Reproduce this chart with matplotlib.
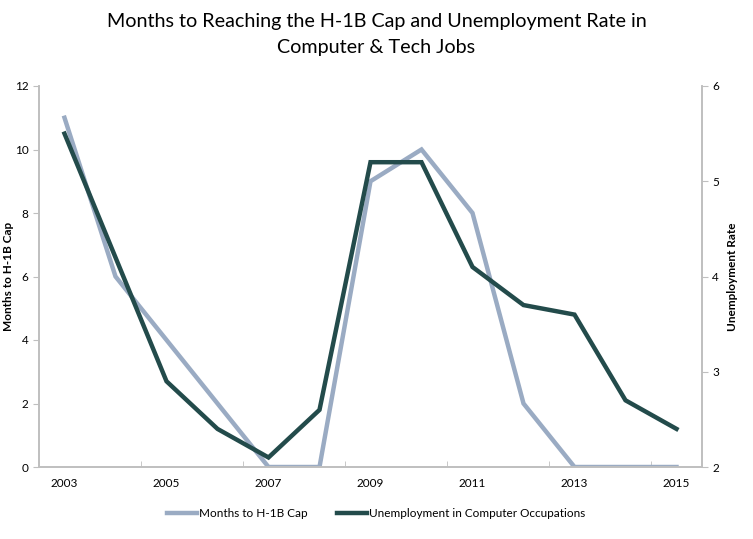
import matplotlib
matplotlib.use("Agg")
import matplotlib.pyplot as plt

years = [2003, 2004, 2005, 2006, 2007, 2008, 2009, 2010, 2011, 2012, 2013, 2014, 2015]
months_to_cap = [11, 6, 4, 2, 0, 0, 9, 10, 8, 2, 0, 0, 0]
unemployment = [5.5, 4.2, 2.9, 2.4, 2.1, 2.6, 5.2, 5.2, 4.1, 3.7, 3.6, 2.7, 2.4]
xtick_labels = [2003, 2005, 2007, 2009, 2011, 2013, 2015]

plt.rcParams['font.family'] = ['Lato', 'DejaVu Sans']

fig = plt.figure(figsize=(7.53, 5.39), dpi=100)
ax = fig.add_axes([39/753, 1-467/539, (702-39)/753, (467-86)/539])
ax2 = ax.twinx()

gray_c = '#9aabc3'
dark_c = '#234b4b'
spine_c = '#bfbfbf'

l1, = ax.plot(years, months_to_cap, color=gray_c, lw=3.2, solid_joinstyle='miter', label='Months to H-1B Cap', zorder=2)
l2, = ax2.plot(years, unemployment, color=dark_c, lw=3.2, solid_joinstyle='miter', label='Unemployment in Computer Occupations', zorder=3)

ax.set_xlim(2002.5, 2015.5)
ax.set_ylim(0, 12)
ax.set_yticks(range(0, 13, 2))
ax2.set_ylim(2, 6)
ax2.set_yticks([2, 3, 4, 5, 6])

ax.set_xticks(xtick_labels)
ax.set_xticklabels([str(y) for y in xtick_labels], fontsize=8.5)
ax.tick_params(axis='x', length=0, pad=8)
ax.set_xticks([2002.5 + 2*i for i in range(7)], minor=True)
ax.tick_params(axis='x', which='minor', length=4, color=spine_c, direction='in')

for a in (ax, ax2):
    a.spines['top'].set_visible(False)
    for s in ('left', 'right', 'bottom'):
        a.spines[s].set_color(spine_c)
        a.spines[s].set_linewidth(1.2)
    a.tick_params(axis='y', labelsize=8.5, length=4, color=spine_c, direction='out')

ax.set_ylabel('Months to H-1B Cap', fontsize=8.5, fontweight='bold')
ax.yaxis.set_label_coords(-0.038, 0.5)
ax2.set_ylabel('Unemployment Rate', fontsize=8.5, fontweight='bold')
ax2.yaxis.set_label_coords(1.038, 0.5)

fig.suptitle('Months to Reaching the H-1B Cap and Unemployment Rate in\nComputer & Tech Jobs',
             fontsize=14.2, y=0.975, linespacing=1.6)

fig.legend(handles=[l1, l2], loc='lower center', bbox_to_anchor=(0.5, 0.018), ncol=2,
           frameon=False, fontsize=8.5, handlelength=2.5, columnspacing=2.5, handletextpad=0.2)

fig.savefig('out.png', dpi=100)
